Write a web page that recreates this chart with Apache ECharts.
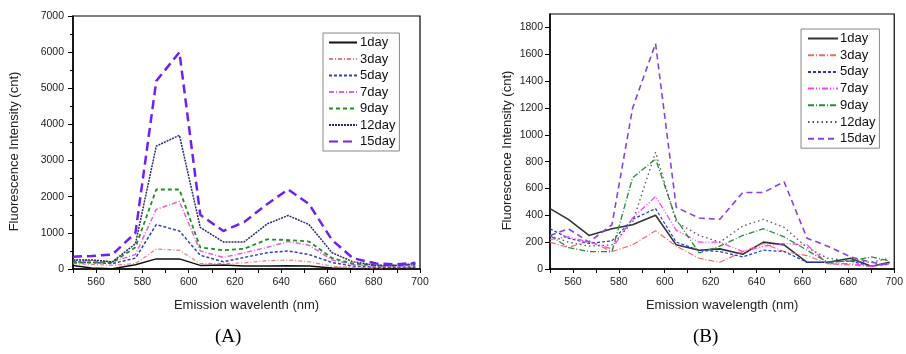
<!DOCTYPE html>
<html>
<head>
<meta charset="utf-8">
<script src="https://cdn.jsdelivr.net/npm/echarts@6/dist/echarts.min.js"></script>
<style>html,body{margin:0;padding:0;background:#fff;}#c{width:906px;height:354px;}</style>
</head>
<body>
<div id="c"></div>
<script>
// Shared wavelengths (nm)
const wavelengths = [550, 558, 567, 577, 586, 596, 605, 615, 624, 634, 643, 652, 662, 671, 681, 690, 698];
const dayNames = ['1day', '3day', '5day', '7day', '9day', '12day', '15day'];
const xTicks = [560, 580, 600, 620, 640, 660, 680, 700];

// Panel A values
const a1day  = [100, 30, 10, 120, 280, 280, 100, 110, 80, 80, 90, 80, 30, 10, 10, 10, 20];
const a3day  = [150, 130, 100, 150, 550, 520, 150, 150, 170, 230, 250, 200, 80, 40, 30, 40, 40];
const a5day  = [200, 180, 150, 300, 1230, 1050, 380, 200, 320, 450, 500, 400, 180, 80, 50, 50, 60];
const a7day  = [250, 230, 200, 400, 1650, 1870, 500, 320, 450, 600, 760, 660, 250, 120, 80, 80, 100];
const a9day  = [180, 180, 180, 600, 2200, 2200, 600, 520, 560, 820, 800, 760, 300, 150, 100, 100, 120];
const a12day = [250, 250, 200, 700, 3400, 3700, 1150, 750, 750, 1250, 1480, 1230, 450, 200, 100, 100, 150];
const a15day = [340, 360, 400, 1000, 5200, 6000, 1500, 1050, 1300, 1800, 2200, 1800, 800, 300, 150, 130, 170];

// Panel B values
const b1day  = [450, 370, 250, 300, 330, 400, 180, 140, 150, 110, 200, 180, 50, 50, 80, 20, 50];
const b3day  = [200, 160, 210, 130, 180, 285, 170, 80, 50, 130, 190, 130, 100, 40, 30, 20, 40];
const b5day  = [300, 230, 190, 210, 370, 450, 200, 140, 130, 90, 140, 130, 50, 50, 60, 20, 40];
const b7day  = [220, 240, 200, 150, 380, 540, 290, 200, 200, 130, 170, 190, 180, 40, 40, 20, 40];
const b9day  = [250, 160, 130, 130, 680, 820, 370, 120, 170, 250, 300, 240, 140, 50, 60, 90, 60];
const b12day = [250, 200, 170, 180, 350, 870, 350, 250, 200, 320, 370, 310, 160, 80, 60, 50, 80];
const b15day = [250, 300, 200, 330, 1200, 1680, 460, 380, 370, 570, 570, 650, 230, 170, 90, 50, 30];

const aData = [a1day, a3day, a5day, a7day, a9day, a12day, a15day];
const bData = [b1day, b3day, b5day, b7day, b9day, b12day, b15day];

const aStyles = [
  {color: '#111111', type: 'solid', width: 1.5},
  {color: '#f07a7a', type: [4, 2, 1, 2], width: 1.2},
  {color: '#3040c0', type: [3, 2], width: 1.5},
  {color: '#e060e0', type: [5, 2, 1, 2], width: 1.5},
  {color: '#1f8f1f', type: [4, 3], width: 1.8},
  {color: '#2b2b6b', type: [2, 1], width: 1.5},
  {color: '#7020f0', type: [9, 5], width: 2.5}
];
const bStyles = [
  {color: '#333333', type: 'solid', width: 1.6},
  {color: '#f06a6a', type: [6, 2, 1, 2], width: 1.2},
  {color: '#2233dd', type: [3, 2], width: 1.2},
  {color: '#ff40ff', type: [6, 2, 1, 2, 1, 2], width: 1.3},
  {color: '#2a8a3a', type: [6, 2, 1, 2], width: 1.3},
  {color: '#555555', type: [1.5, 3], width: 1.3},
  {color: '#8a40e8', type: [6, 4], width: 1.6}
];

const font = 'Liberation Sans, Arial, sans-serif';

function pairs(vals) { return wavelengths.map((w, i) => [w, vals[i]]); }

const series = [];
dayNames.forEach((n, i) => {
  series.push({
    name: 'A:' + n, type: 'line', xAxisIndex: 0, yAxisIndex: 0,
    data: pairs(aData[i]), symbol: 'none', silent: true, animation: false,
    lineStyle: aStyles[i], itemStyle: {color: aStyles[i].color}
  });
});
dayNames.forEach((n, i) => {
  series.push({
    name: 'B:' + n, type: 'line', xAxisIndex: 1, yAxisIndex: 1,
    data: pairs(bData[i]), symbol: 'none', silent: true, animation: false,
    lineStyle: bStyles[i], itemStyle: {color: bStyles[i].color}
  });
});

function xAxis(gridIndex, name) {
  return {
    type: 'value', gridIndex: gridIndex, min: 550, max: 700, interval: 10,
    name: name, nameLocation: 'middle', nameGap: 30,
    nameTextStyle: {fontFamily: font, fontSize: 13, color: '#222'},
    axisLine: {onZero: false, lineStyle: {color: '#000', width: 1.5}},
    axisTick: {length: 4, lineStyle: {color: '#000'}},
    splitLine: {show: false},
    axisLabel: {
      fontFamily: font, fontSize: 10.5, color: '#222', margin: 8,
      formatter: v => xTicks.indexOf(v) >= 0 ? String(v) : ''
    }
  };
}

const option = {
  backgroundColor: '#fff',
  animation: false,
  grid: [
    {left: 73, top: 16, width: 347, height: 253, show: true, borderColor: '#000', borderWidth: 1.2},
    {left: 550, top: 14, width: 349, height: 255, show: true, borderColor: '#000', borderWidth: 1.2}
  ],
  xAxis: [xAxis(0, 'Emission wavelenth (nm)'), xAxis(1, 'Emission wavelength (nm)')],
  yAxis: [
    {
      type: 'value', gridIndex: 0, min: 0, max: 7000, interval: 1000,
      name: 'Fluorescence Intensity (cnt)', nameLocation: 'middle', nameGap: 52,
      nameTextStyle: {fontFamily: font, fontSize: 13, color: '#222', padding: [0, 18, 0, 0]},
      axisLine: {show: true, lineStyle: {color: '#000', width: 1.5}},
      axisTick: {show: true, length: 5, lineStyle: {color: '#000'}},
      minorTick: {show: true, splitNumber: 2, length: 3, lineStyle: {color: '#000'}},
      splitLine: {show: false},
      axisLabel: {fontFamily: font, fontSize: 10.5, color: '#222', margin: 9, formatter: v => String(v)}
    },
    {
      type: 'value', gridIndex: 1, min: 0, max: 1900, interval: 200,
      name: 'Fluorescence Intensity (cnt)', nameLocation: 'middle', nameGap: 36,
      nameTextStyle: {fontFamily: font, fontSize: 13, color: '#222', padding: [0, 18, 0, 0]},
      axisLine: {show: true, lineStyle: {color: '#000', width: 1.5}},
      axisTick: {show: true, length: 5, lineStyle: {color: '#000'}},
      splitLine: {show: false},
      axisLabel: {fontFamily: font, fontSize: 10.5, color: '#222', margin: 7, showMaxLabel: false, formatter: v => String(v)}
    }
  ],
  legend: [
    {
      data: dayNames.map(n => 'A:' + n), orient: 'vertical', left: 323, top: 33,
      itemWidth: 28, itemHeight: 12, itemGap: 3.5, padding: [3, 4, 3, 5],
      borderColor: '#888', borderWidth: 1, backgroundColor: '#fff',
      itemStyle: {opacity: 0},
      formatter: n => n.slice(2), selectedMode: false,
      textStyle: {fontFamily: font, fontSize: 13, color: '#111', padding: [0, 0, 0, -2]}
    },
    {
      data: dayNames.map(n => 'B:' + n), orient: 'vertical', left: 801, top: 29,
      itemWidth: 30, itemHeight: 12, itemGap: 3.7, padding: [3, 4, 3, 6],
      borderColor: '#888', borderWidth: 1, backgroundColor: '#fff',
      itemStyle: {opacity: 0},
      formatter: n => n.slice(2), selectedMode: false,
      textStyle: {fontFamily: font, fontSize: 13, color: '#111', padding: [0, 0, 0, -3]}
    }
  ],
  graphic: [
    {type: 'text', left: 215, top: 328, style: {text: '(A)', font: '19px "Liberation Serif", "Times New Roman", serif', fill: '#000'}},
    {type: 'text', left: 693, top: 328, style: {text: '(B)', font: '19px "Liberation Serif", "Times New Roman", serif', fill: '#000'}}
  ],
  series: series
};

const chart = echarts.init(document.getElementById('c'), null, {renderer: 'canvas'});
chart.setOption(option);
</script>
</body>
</html>
